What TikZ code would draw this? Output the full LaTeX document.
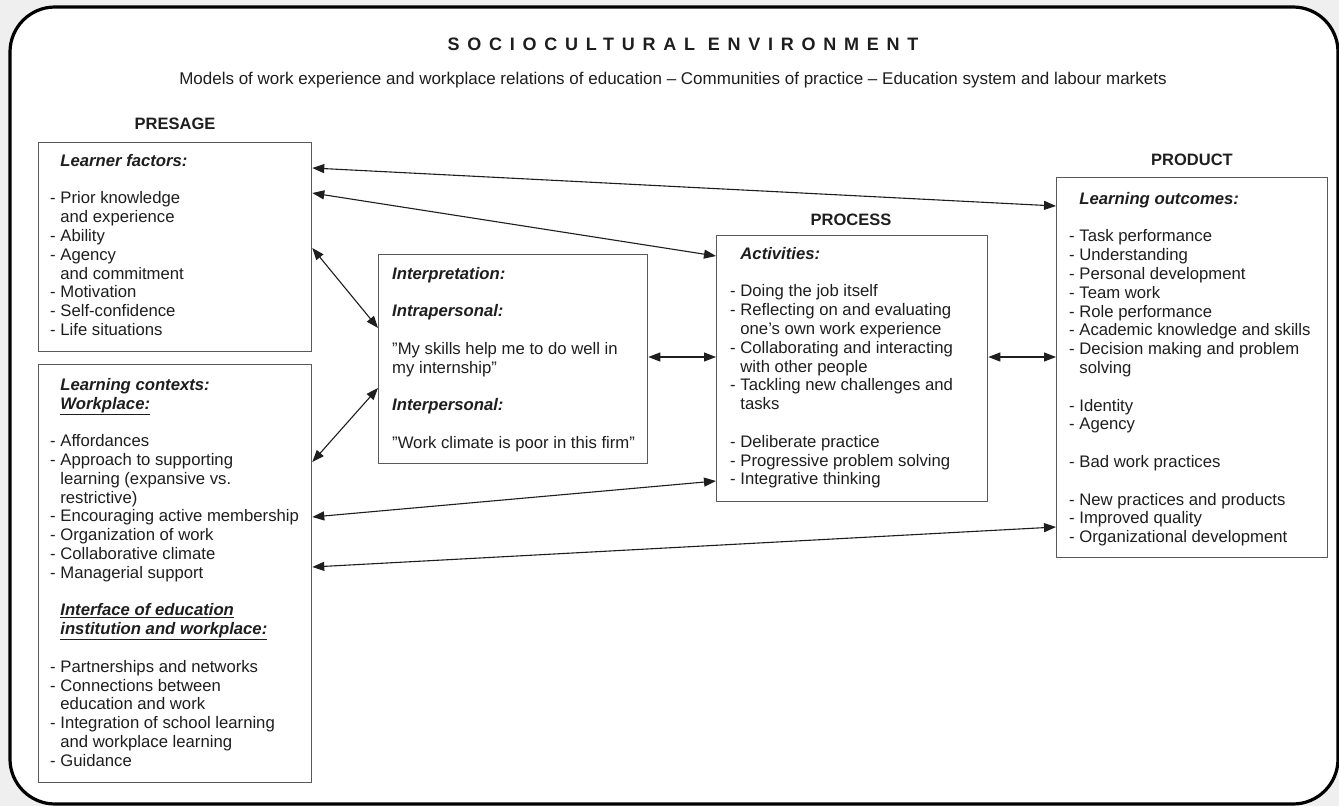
\documentclass[tikz,border=0pt]{standalone}
\usepackage{fontspec}
\setmainfont{Liberation Sans}
\usetikzlibrary{arrows.meta}
\definecolor{bg}{HTML}{EFEFEF}
\definecolor{ink}{HTML}{1E1E1E}
\definecolor{boxline}{HTML}{5A5A5A}
\newcommand\ind{\phantom{- }}
\newcommand\hd[1]{\textbf{\textit{#1}}}
\tikzset{
  box/.style={draw=boxline, line width=1.3pt, inner sep=0pt, anchor=north west},
  txt/.style={anchor=north west, inner sep=0pt, align=left, text=ink,
              font=\fontsize{16.7}{18.8}\selectfont},
  lbl/.style={inner sep=0pt, text=ink, font=\fontsize{16.5}{19}\selectfont\bfseries},
  conn/.style={{Triangle[length=12pt,width=9pt]}-{Triangle[length=12pt,width=9pt]},
               line width=1.1pt, draw=ink}
}
\begin{document}
\begin{tikzpicture}[x=1pt,y=-1pt]
\useasboundingbox (0,0) rectangle (1339,806);
\fill[bg] (0,0) rectangle (1339,806);
\draw[line width=3.2pt, fill=white, rounded corners=45pt] (10,7) rectangle (1338,804);

\node[inner sep=0pt, text=ink, font=\fontsize{18}{20}\selectfont\bfseries\addfontfeature{LetterSpace=43}] (title) at (683,44) {SOCIOCULTURAL ENVIRONMENT};
\node[inner sep=0pt, text=ink, font=\fontsize{17}{19}\selectfont] (sub) at (673,80) {Models of work experience and workplace relations of education -- Communities of practice -- Education system and labour markets};

\node[lbl] (presage) at (175,124) {PRESAGE};
\node[lbl] (process) at (851,220) {PROCESS};
\node[lbl] (product) at (1192,160) {PRODUCT};

\node[box, minimum width=273pt, minimum height=209pt] (lf) at (38,142) {};
\node[box, minimum width=273pt, minimum height=418pt] (lc) at (38,364) {};
\node[box, minimum width=269pt, minimum height=209pt] (ip) at (378,254) {};
\node[box, minimum width=271pt, minimum height=266pt] (pc) at (716,235) {};
\node[box, minimum width=271pt, minimum height=380pt] (pd) at (1056,177) {};

\node[txt] (lftext) at (50,154) {\ind\hd{Learner factors:}\\ ~\\
- Prior knowledge\\
\ind and experience\\
- Ability\\
- Agency\\
\ind and commitment\\
- Motivation\\
- Self-confidence\\
- Life situations};

\node[txt] (lctext) at (50,378) {\ind\hd{Learning contexts:}\\
\ind\hd{\underline{Workplace:}}\\ ~\\
- Affordances\\
- Approach to supporting\\
\ind learning (expansive vs.\\
\ind restrictive)\\
- Encouraging active membership\\
- Organization of work\\
- Collaborative climate\\
- Managerial support\\ ~\\
\ind\hd{\underline{Interface of education}}\\
\ind\hd{\underline{institution and workplace:}}\\ ~\\
- Partnerships and networks\\
- Connections between\\
\ind education and work\\
- Integration of school learning\\
\ind and workplace learning\\
- Guidance};

\node[txt] (iptext) at (392,267) {\hd{Interpretation:}\\ ~\\
\hd{Intrapersonal:}\\ ~\\
”My skills help me to do well in\\
my internship”\\ ~\\
\hd{Interpersonal:}\\ ~\\
”Work climate is poor in this firm”};

\node[txt] (pctext) at (730,247) {\ind\hd{Activities:}\\ ~\\
- Doing the job itself\\
- Reflecting on and evaluating\\
\ind one’s own work experience\\
- Collaborating and interacting\\
\ind with other people\\
- Tackling new challenges and\\
\ind tasks\\ ~\\
- Deliberate practice\\
- Progressive problem solving\\
- Integrative thinking};

\node[txt] (pdtext) at (1069,192) {\ind\hd{Learning outcomes:}\\ ~\\
- Task performance\\
- Understanding\\
- Personal development\\
- Team work\\
- Role performance\\
- Academic knowledge and skills\\
- Decision making and problem\\
\ind solving\\ ~\\
- Identity\\
- Agency\\ ~\\
- Bad work practices\\ ~\\
- New practices and products\\
- Improved quality\\
- Organizational development};

\draw[conn] ([yshift=-26pt]lf.north east) -- ([yshift=-29pt]pd.north west);
\draw[conn] ([yshift=-51pt]lf.north east) -- ([yshift=-21pt]pc.north west);
\draw[conn] ([yshift=-106pt]lf.north east) -- ([yshift=-74pt]ip.north west);
\draw[conn] ([yshift=-98pt]lc.north east) -- ([yshift=-134pt]ip.north west);
\draw[conn] ([yshift=-103pt]ip.north east) -- ([yshift=-122pt]pc.north west);
\draw[conn] ([yshift=-122pt]pc.north east) -- ([yshift=-180pt]pd.north west);
\draw[conn] ([yshift=-153pt]lc.north east) -- ([yshift=-246pt]pc.north west);
\draw[conn] ([yshift=-203pt]lc.north east) -- ([yshift=-350pt]pd.north west);
\end{tikzpicture}
\end{document}
